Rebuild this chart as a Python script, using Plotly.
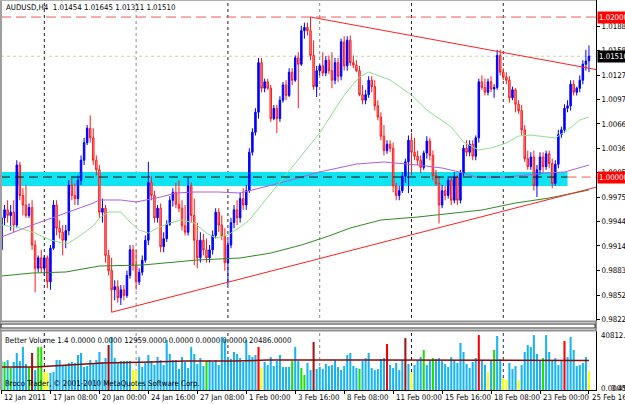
import plotly.graph_objects as go

# ---------------- DATA ----------------
symbol_title = "AUDUSD,H4  1.01454 1.01645 1.01311 1.01510"
vol_title = "Better Volume 1.4 0.0000 0.0000 12959.0000 0.0000 0.0000 0.0000 20486.0000"
copyright_text = "Broco Trader, \u00a9 2001-2010 MetaQuotes Software Corp."

opens = [0.9909, 0.9949, 0.9959, 0.9952, 0.9956, 0.9940, 1.0015, 0.9977, 0.9965, 0.9952,
 0.9962, 0.9915, 0.9886, 0.9899, 0.9886, 0.9899, 0.9869, 0.9911, 0.9965, 0.9936,
 0.9931, 0.9921, 0.9933, 0.9990, 0.9977, 0.9973, 0.9996, 1.0021, 1.0043, 1.0061,
 1.0049, 1.0021, 1.0009, 0.9956, 0.9961, 0.9902, 0.9883, 0.9859, 0.9863, 0.9849,
 0.9859, 0.9852, 0.9877, 0.9909, 0.9890, 0.9869, 0.9881, 0.9896, 0.9921, 0.9993,
 0.9977, 0.9949, 0.9961, 0.9913, 0.9923, 0.9941, 0.9971, 0.9981, 0.9966, 0.9961,
 0.9939, 0.9931, 0.9989, 0.9952, 0.9921, 0.9899, 0.9921, 0.9909, 0.9899, 0.9909,
 0.9927, 0.9956, 0.9940, 0.9926, 0.9893, 0.9915, 0.9943, 0.9959, 0.9949, 0.9973,
 0.9965, 0.9983, 1.0031, 1.0056, 1.0081, 1.0143, 1.0111, 1.0119, 1.0111, 1.0073,
 1.0086, 1.0073, 1.0096, 1.0115, 1.0102, 1.0131, 1.0121, 1.0149, 1.0141, 1.0183,
 1.0187, 1.0183, 1.0152, 1.0113, 1.0133, 1.0139, 1.0130, 1.0146, 1.0133, 1.0121,
 1.0143, 1.0126, 1.0169, 1.0139, 1.0171, 1.0143, 1.0140, 1.0133, 1.0103, 1.0096,
 1.0103, 1.0121, 1.0113, 1.0089, 1.0075, 1.0051, 1.0033, 1.0041, 1.0036, 0.9989,
 0.9977, 0.9983, 1.0001, 1.0019, 1.0046, 1.0031, 1.0026, 1.0021, 1.0012, 1.0030,
 1.0045, 1.0027, 1.0002, 0.9992, 0.9965, 0.9983, 0.9977, 0.9996, 0.9971, 1.0000,
 0.9971, 1.0005, 1.0036, 1.0031, 1.0041, 1.0026, 1.0049, 1.0119, 1.0112, 1.0106,
 1.0119, 1.0110, 1.0112, 1.0152, 1.0131, 1.0125, 1.0121, 1.0099, 1.0109, 1.0091,
 1.0083, 1.0059, 1.0023, 1.0013, 1.0025, 0.9989, 1.0009, 1.0025, 1.0013, 1.0029,
 1.0017, 0.9992, 1.0016, 1.0053, 1.0059, 1.0086, 1.0089, 1.0116, 1.0106, 1.0111,
 1.0121, 1.0141, 1.01454]

highs = [0.9956, 0.9965, 0.9971, 0.9965, 0.9971, 1.0021, 1.0019, 0.9986, 0.9990, 0.9967,
 0.9971, 0.9921, 0.9902, 0.9909, 0.9902, 0.9902, 0.9915, 0.9971, 0.9971, 0.9946,
 0.9940, 0.9940, 0.9996, 0.9999, 0.9992, 1.0002, 1.0027, 1.0049, 1.0065, 1.0077,
 1.0061, 1.0027, 1.0015, 0.9973, 0.9965, 0.9909, 0.9899, 0.9871, 0.9871, 0.9865,
 0.9865, 0.9883, 0.9915, 0.9915, 0.9909, 0.9886, 0.9902, 0.9927, 1.0019, 1.0001,
 0.9983, 0.9965, 0.9967, 0.9931, 0.9946, 0.9976, 0.9986, 0.9993, 0.9996, 0.9971,
 0.9965, 0.9999, 0.9993, 0.9973, 0.9943, 0.9931, 0.9929, 0.9923, 0.9915, 0.9933,
 0.9961, 0.9961, 0.9952, 0.9936, 0.9921, 0.9949, 0.9965, 0.9971, 0.9981, 0.9986,
 0.9990, 1.0036, 1.0061, 1.0086, 1.0149, 1.0149, 1.0123, 1.0123, 1.0115, 1.0090,
 1.0090, 1.0101, 1.0119, 1.0121, 1.0136, 1.0136, 1.0152, 1.0156, 1.0189, 1.0193,
 1.0193, 1.0200, 1.0171, 1.0139, 1.0141, 1.0156, 1.0151, 1.0152, 1.0156, 1.0149,
 1.0149, 1.0173, 1.0176, 1.0176, 1.0177, 1.0152, 1.0146, 1.0139, 1.0115, 1.0109,
 1.0126, 1.0126, 1.0121, 1.0096, 1.0081, 1.0065, 1.0046, 1.0046, 1.0043, 0.9993,
 0.9989, 1.0006, 1.0023, 1.0052, 1.0055, 1.0049, 1.0033, 1.0027, 1.0033, 1.0051,
 1.0049, 1.0033, 1.0009, 1.0001, 0.9990, 0.9989, 1.0001, 0.9999, 1.0006, 1.0002,
 1.0009, 1.0040, 1.0046, 1.0046, 1.0046, 1.0052, 1.0123, 1.0127, 1.0123, 1.0123,
 1.0126, 1.0116, 1.0159, 1.0159, 1.0136, 1.0131, 1.0126, 1.0113, 1.0111, 1.0096,
 1.0090, 1.0065, 1.0033, 1.0031, 1.0033, 1.0015, 1.0031, 1.0031, 1.0033, 1.0033,
 1.0023, 1.0021, 1.0059, 1.0063, 1.0091, 1.0096, 1.0121, 1.0121, 1.0113, 1.0127,
 1.0146, 1.0159, 1.01645]

lows = [0.9901, 0.9940, 0.9943, 0.9933, 0.9931, 0.9936, 0.9971, 0.9952, 0.9949, 0.9949,
 0.9909, 0.9856, 0.9881, 0.9881, 0.9877, 0.9861, 0.9859, 0.9909, 0.9927, 0.9923,
 0.9902, 0.9911, 0.9927, 0.9971, 0.9965, 0.9965, 0.9990, 1.0015, 1.0040, 1.0043,
 1.0015, 1.0002, 0.9949, 0.9943, 0.9893, 0.9877, 0.9831, 0.9846, 0.9843, 0.9840,
 0.9846, 0.9849, 0.9873, 0.9883, 0.9859, 0.9865, 0.9877, 0.9893, 0.9915, 0.9971,
 0.9943, 0.9943, 0.9906, 0.9906, 0.9919, 0.9939, 0.9963, 0.9961, 0.9956, 0.9933,
 0.9927, 0.9927, 0.9943, 0.9890, 0.9886, 0.9893, 0.9902, 0.9893, 0.9893, 0.9903,
 0.9923, 0.9931, 0.9921, 0.9883, 0.9865, 0.9911, 0.9936, 0.9940, 0.9943, 0.9959,
 0.9959, 0.9980, 1.0027, 1.0052, 1.0073, 1.0106, 1.0106, 1.0109, 1.0069, 1.0071,
 1.0055, 1.0069, 1.0093, 1.0096, 1.0100, 1.0115, 1.0119, 1.0086, 1.0139, 1.0173,
 1.0177, 1.0146, 1.0109, 1.0100, 1.0127, 1.0126, 1.0126, 1.0129, 1.0111, 1.0116,
 1.0119, 1.0121, 1.0133, 1.0133, 1.0139, 1.0136, 1.0131, 1.0101, 1.0091, 1.0091,
 1.0099, 1.0106, 1.0083, 1.0071, 1.0046, 1.0027, 1.0029, 1.0031, 0.9981, 0.9971,
 0.9971, 0.9980, 0.9993, 0.9980, 1.0002, 1.0021, 1.0015, 1.0005, 1.0009, 1.0023,
 1.0021, 0.9996, 0.9989, 0.9942, 0.9961, 0.9971, 0.9973, 0.9965, 0.9967, 0.9965,
 0.9967, 1.0001, 1.0026, 1.0026, 1.0021, 1.0021, 1.0043, 1.0109, 1.0102, 1.0102,
 1.0106, 1.0099, 1.0109, 1.0127, 1.0121, 1.0116, 1.0093, 1.0096, 1.0081, 1.0079,
 1.0052, 1.0019, 1.0009, 1.0009, 0.9983, 0.9975, 1.0003, 1.0006, 1.0009, 1.0011,
 0.9986, 0.9989, 1.0011, 1.0049, 1.0055, 1.0081, 1.0083, 1.0102, 1.0102, 1.0106,
 1.0116, 1.0133, 1.01311]

closes = [0.9949, 0.9959, 0.9952, 0.9956, 0.9940, 1.0015, 0.9977, 0.9965, 0.9952, 0.9962,
 0.9915, 0.9886, 0.9899, 0.9886, 0.9899, 0.9869, 0.9911, 0.9965, 0.9936, 0.9931,
 0.9921, 0.9933, 0.9990, 0.9977, 0.9973, 0.9996, 1.0021, 1.0043, 1.0061, 1.0049,
 1.0021, 1.0009, 0.9956, 0.9961, 0.9902, 0.9883, 0.9859, 0.9863, 0.9849, 0.9859,
 0.9852, 0.9877, 0.9909, 0.9890, 0.9869, 0.9881, 0.9896, 0.9921, 0.9993, 0.9977,
 0.9949, 0.9961, 0.9913, 0.9923, 0.9941, 0.9971, 0.9981, 0.9966, 0.9961, 0.9939,
 0.9931, 0.9989, 0.9952, 0.9921, 0.9899, 0.9921, 0.9909, 0.9899, 0.9909, 0.9927,
 0.9956, 0.9940, 0.9926, 0.9893, 0.9915, 0.9943, 0.9959, 0.9949, 0.9973, 0.9965,
 0.9983, 1.0031, 1.0056, 1.0081, 1.0143, 1.0111, 1.0119, 1.0111, 1.0073, 1.0086,
 1.0073, 1.0096, 1.0115, 1.0102, 1.0131, 1.0121, 1.0149, 1.0141, 1.0183, 1.0187,
 1.0183, 1.0152, 1.0113, 1.0133, 1.0139, 1.0130, 1.0146, 1.0133, 1.0121, 1.0143,
 1.0126, 1.0169, 1.0139, 1.0171, 1.0143, 1.0140, 1.0133, 1.0103, 1.0096, 1.0103,
 1.0121, 1.0113, 1.0089, 1.0075, 1.0051, 1.0033, 1.0041, 1.0036, 0.9989, 0.9977,
 0.9983, 1.0001, 1.0019, 1.0046, 1.0031, 1.0026, 1.0021, 1.0012, 1.0030, 1.0045,
 1.0027, 1.0002, 0.9992, 0.9965, 0.9983, 0.9977, 0.9996, 0.9971, 1.0000, 0.9971,
 1.0005, 1.0036, 1.0031, 1.0041, 1.0026, 1.0049, 1.0119, 1.0112, 1.0106, 1.0119,
 1.0110, 1.0112, 1.0152, 1.0131, 1.0125, 1.0121, 1.0099, 1.0109, 1.0091, 1.0083,
 1.0059, 1.0023, 1.0013, 1.0025, 0.9989, 1.0009, 1.0025, 1.0013, 1.0029, 1.0017,
 0.9992, 1.0016, 1.0053, 1.0059, 1.0086, 1.0089, 1.0116, 1.0106, 1.0111, 1.0121,
 1.0141, 1.0145, 1.01510]

volumes = [20000, 19400, 20700, 15200, 19400, 25600, 20000, 29700, 18000, 15900,
 25600, 13800, 29700, 29700, 12400, 11800, 11800, 12500, 20700, 20700,
 17300, 17300, 18700, 19400, 18700, 24200, 25600, 15900, 16600, 20700,
 18700, 20700, 26300, 19400, 22100, 31100, 36700, 22100, 19400, 20000,
 20000, 20000, 20000, 13800, 13800, 22800, 15900, 18700, 24200, 20000,
 17300, 22800, 20700, 17300, 34600, 24900, 20700, 20700, 14500, 22800,
 19400, 15200, 29700, 24900, 18000, 22100, 16600, 20000, 20700, 19400,
 20700, 17300, 36700, 35200, 22800, 21400, 26300, 24900, 22100, 19400,
 34600, 24200, 22800, 24200, 29700, 15200, 19400, 17300, 22800, 16600,
 20000, 24200, 15900, 15900, 15900, 20000, 29700, 20000, 15200, 10400,
 18700, 13800, 33200, 14500, 15900, 14500, 18000, 16600, 17300, 20700,
 15900, 13800, 16600, 24200, 25600, 16600, 15200, 14500, 20000, 22100,
 25600, 15200, 13800, 14500, 21400, 22100, 31800, 17300, 15200, 18700,
 13800, 20700, 35900, 18000, 12400, 17300, 20700, 22800, 27700, 17300,
 20700, 22100, 21400, 22100, 20000, 18000, 15900, 22800, 20700, 18700,
 32500, 26300, 18000, 15200, 19400, 22100, 38000, 20700, 17300, 12400,
 20700, 27700, 37400, 21400, 8300, 6900, 18700, 14500, 16600, 6900,
 17300, 26300, 31100, 29700, 38000, 24900, 20700, 22100, 38000, 26300,
 20700, 22100, 17300, 20000, 33900, 22800, 36700, 27700, 16600, 17300,
 18700, 22800, 12959]

# b=normal, g=churn, y=low volume, r=climax up, m=climax churn
vol_types = ("bgbgbbbbbg" "mbggyybbbb" "bbbbbbbbbb" "bbbbbmbbbb" "bbbyybbbbb"
             "bbbbbbbbbb" "bbbbbbbgbb" "bbbbbbbbbb" "bbbbrybbbb" "bbbbbgbbgg"
             "bbmbbbbbbb" "bbbbbbbgbb" "bbbbbbrbbb" "bbmbybbbgb" "bgbbbbbbbb"
             "bbbbbbrbby" "bgbbyybbby" "bbbbbbbgbb" "bbbbrbbbbb" "bby")

vol_ma_idx = [0, 11, 22, 33, 49, 60, 76, 87, 120, 160, 192]
vol_ma_vals = [15900, 15900, 17300, 18700, 19400, 20000, 20000, 20700, 20700, 20700, 20486]

ma_fast_idx = [0, 6, 11, 16, 20, 22, 26, 30, 32, 35, 39, 42, 45, 48, 51, 55, 59, 63, 67, 70,
               74, 78, 81, 93, 104, 112, 117, 120, 127, 134, 139, 147, 151, 156, 160, 165,
               169, 173, 178, 181, 185, 189, 192]
ma_fast_vals = [0.99400, 0.99363, 0.99300, 0.99213, 0.99175, 0.99175, 0.99275, 0.99388, 0.99488,
                0.99563, 0.99563, 0.99438, 0.99338, 0.99300, 0.99363, 0.99425, 0.99463, 0.99425,
                0.99300, 0.99238, 0.99275, 0.99375, 0.99463, 1.00025, 1.00550, 1.01025, 1.01250,
                1.01313, 1.01213, 1.01025, 1.00838, 1.00625, 1.00438, 1.00338, 1.00363, 1.00425,
                1.00513, 1.00525, 1.00500, 1.00488, 1.00588, 1.00713, 1.00750]

ma_mid_idx = [0, 10, 21, 30, 32, 39, 44, 52, 57, 63, 71, 78, 91, 104, 116, 125, 136, 144,
              151, 155, 165, 178, 184, 189, 192]
ma_mid_vals = [0.99250, 0.99400, 0.99550, 0.99675, 0.99713, 0.99713, 0.99688, 0.99750, 0.99800,
               0.99813, 0.99813, 0.99800, 0.99925, 1.00063, 1.00163, 1.00188, 1.00150, 1.00113,
               1.00050, 1.00000, 1.00000, 1.00050, 1.00063, 1.00113, 1.00150]

ma_slow_idx = [0, 10, 21, 28, 32, 46, 54, 64, 78, 88, 98, 107, 114, 124, 136, 147, 157, 168, 179, 192]
ma_slow_vals = [0.98763, 0.98800, 0.98813, 0.98863, 0.98888, 0.98900, 0.98925, 0.98963, 0.98988,
                0.99050, 0.99150, 0.99263, 0.99363, 0.99463, 0.99500, 0.99550, 0.99588, 0.99675,
                0.99738, 0.99838]

trend_up = [(36, 0.9831), (192, 0.99850)]
trend_down = [(101, 1.0200), (192, 1.01360)]
level_top = 1.02000
level_mid = 1.00000
bid_price = 1.01510
zone_top, zone_bottom, zone_end = 1.00063, 0.99888, 185

price_ticks = [1.01885, 1.01580, 1.01275, 1.00970, 1.00665, 1.00360, 1.00055,
               0.99750, 0.99445, 0.99140, 0.98835, 0.98525, 0.98220]
time_idx = [0, 16, 32, 48, 64, 80, 96, 112, 128, 144, 160, 176, 192]
time_labels = ["12 Jan 2011", "17 Jan 08:00", "20 Jan 00:00", "24 Jan 16:00", "27 Jan 08:00",
               "1 Feb 00:00", "3 Feb 16:00", "8 Feb 08:00", "11 Feb 00:00", "15 Feb 16:00",
               "18 Feb 08:00", "23 Feb 00:00", "25 Feb 16:00"]
grid_idx = [14, 44, 74, 104, 134, 164]
grid_colors = ["#202020", "#8c8c8c", "#202020", "#8c8c8c", "#202020", "#303030"]
vol_max = 40812.45

# ---------------- LAYOUT HELPERS ----------------
W, H = 625, 404
def fx(p):
    return p / W
def fy(p):
    return 1 - p / H

FONT = "Liberation Sans Narrow, DejaVu Sans Condensed, Arial Narrow, Liberation Sans, sans-serif"
FS = 7.8
n = len(closes)
idx = list(range(n))
xr = [-0.16, 194.3]
yr = [0.98188, 1.02213]

vol_color_map = {"b": "#18b4f2", "g": "#22dd00", "y": "#ffff00", "r": "#ff0000", "m": "#a01414"}

fig = go.Figure()

fig.add_trace(go.Candlestick(
    x=idx, open=opens, high=highs, low=lows, close=closes,
    increasing=dict(line=dict(color="#0000ff", width=1), fillcolor="#0000ff"),
    decreasing=dict(line=dict(color="#ff1a1a", width=1), fillcolor="#f6a0a0"),
    whiskerwidth=0, xaxis="x", yaxis="y", showlegend=False, hoverinfo="skip"))

for xs, ys, col in [(ma_slow_idx, ma_slow_vals, "#2e8b22"),
                    (ma_mid_idx, ma_mid_vals, "#b05ee0"),
                    (ma_fast_idx, ma_fast_vals, "#8ee08e")]:
    fig.add_trace(go.Scatter(x=xs, y=ys, mode="lines", line=dict(color=col, width=1),
                             xaxis="x", yaxis="y", showlegend=False, hoverinfo="skip"))

# trend lines (rays to the right edge)
for (i0, p0), (i1, p1) in [trend_up, trend_down]:
    slope = (p1 - p0) / (i1 - i0)
    xe = xr[1]
    fig.add_trace(go.Scatter(x=[i0, xe], y=[p0, p0 + slope * (xe - i0)], mode="lines",
                             line=dict(color="#ff2020", width=1), xaxis="x", yaxis="y",
                             showlegend=False, hoverinfo="skip"))

# volume bars
fig.add_trace(go.Bar(x=idx, y=volumes, marker=dict(color=[vol_color_map[c] for c in vol_types],
                     line=dict(width=0)), xaxis="x2", yaxis="y2", showlegend=False, hoverinfo="skip"))
fig.add_trace(go.Scatter(x=vol_ma_idx, y=vol_ma_vals, mode="lines", line=dict(color="#8b0a0a", width=1.5),
                         xaxis="x2", yaxis="y2", showlegend=False, hoverinfo="skip"))

shapes = []
# cyan zone
shapes.append(dict(type="rect", xref="x", yref="y", x0=xr[0], x1=zone_end, y0=zone_bottom, y1=zone_top,
                   fillcolor="#10e4f2", line=dict(width=0), layer="below"))
# grid verticals
for gi, gc in zip(grid_idx, grid_colors):
    shapes.append(dict(type="line", xref="x", yref="paper", x0=gi, x1=gi, y0=fy(390), y1=fy(0),
                       line=dict(color=gc, width=1, dash="3px,3px"), layer="below"))
# horizontal levels
shapes.append(dict(type="line", xref="x", yref="y", x0=xr[0], x1=xr[1], y0=level_top, y1=level_top,
                   line=dict(color="#f25a5a", width=1, dash="10px,5px")))
shapes.append(dict(type="line", xref="x", yref="y", x0=xr[0], x1=zone_end, y0=level_mid, y1=level_mid,
                   line=dict(color="#101010", width=1, dash="9px,5px")))
shapes.append(dict(type="line", xref="x", yref="y", x0=zone_end, x1=xr[1], y0=level_mid, y1=level_mid,
                   line=dict(color="#f25a5a", width=1, dash="9px,5px")))
shapes.append(dict(type="line", xref="x", yref="y", x0=xr[0], x1=xr[1], y0=bid_price, y1=bid_price,
                   line=dict(color="#cfcfa8", width=1, dash="dot"), layer="below"))
# frames
shapes.append(dict(type="line", xref="paper", yref="paper", x0=fx(1), x1=fx(1), y0=fy(322), y1=fy(0),
                   line=dict(color="#a0a0a0", width=2)))
shapes.append(dict(type="line", xref="paper", yref="paper", x0=fx(1), x1=fx(1), y0=fy(390), y1=fy(330),
                   line=dict(color="#a0a0a0", width=2)))
shapes.append(dict(type="line", xref="paper", yref="paper", x0=0, x1=fx(596), y0=fy(0.5), y1=fy(0.5),
                   line=dict(color="#b0b0b0", width=1)))
shapes.append(dict(type="rect", xref="paper", yref="paper", x0=0, x1=fx(596), y0=fy(330.5), y1=fy(321.5),
                   fillcolor="#ffffff", line=dict(color="#909090", width=2)))
shapes.append(dict(type="rect", xref="paper", yref="paper", x0=fx(1), x1=fx(595), y0=fy(328), y1=fy(324),
                   fillcolor="#ffffff", line=dict(color="#303030", width=1)))

annotations = []
annotations.append(dict(text=symbol_title, xref="paper", yref="paper", x=fx(4), y=fy(7),
                        xanchor="left", yanchor="middle", showarrow=False, font=dict(size=FS, color="#000")))
annotations.append(dict(text=vol_title, xref="paper", yref="paper", x=fx(3), y=fy(340),
                        xanchor="left", yanchor="middle", showarrow=False, font=dict(size=FS, color="#000")))
annotations.append(dict(text=copyright_text, xref="paper", yref="paper", x=fx(3), y=fy(383),
                        xanchor="left", yanchor="middle", showarrow=False, font=dict(size=FS, color="#000")))
for ti, tl in zip(time_idx, time_labels):
    annotations.append(dict(text=tl, xref="x2", yref="paper", x=ti, y=fy(397.5), xshift=1,
                            xanchor="left", yanchor="middle", showarrow=False, font=dict(size=FS, color="#000")))
for txt, p, bg in [("1.02000", level_top, "#ff0000"), ("1.00000", level_mid, "#ff0000"),
                   ("1.01510", bid_price, "#000000")]:
    annotations.append(dict(text=txt, xref="paper", yref="y", x=fx(597), y=p, xanchor="left",
                            yanchor="middle", showarrow=False, bgcolor=bg, borderpad=1,
                            font=dict(size=FS, color="#ffffff")))
annotations.append(dict(text="%.2f" % vol_max, xref="paper", yref="paper", x=fx(599), y=fy(335),
                        xanchor="left", yanchor="middle", showarrow=False, font=dict(size=FS, color="#000")))
annotations.append(dict(text="0.0000", xref="paper", yref="paper", x=fx(599), y=fy(388),
                        xanchor="left", yanchor="middle", showarrow=False, font=dict(size=FS, color="#000")))
annotations.append(dict(text="3.45", xref="paper", yref="paper", x=fx(609), y=fy(388),
                        xanchor="left", yanchor="middle", showarrow=False, font=dict(size=FS, color="#000")))

fig.update_layout(
    width=W, height=H, margin=dict(l=0, r=0, t=0, b=0),
    paper_bgcolor="#ffffff", plot_bgcolor="#ffffff",
    font=dict(family=FONT, size=FS, color="#000"),
    bargap=0.33, showlegend=False,
    xaxis=dict(domain=[fx(1), fx(596)], range=xr, anchor="y", showgrid=False, zeroline=False,
               showticklabels=False, rangeslider=dict(visible=False), fixedrange=True, showline=False),
    yaxis=dict(domain=[fy(322), fy(0)], range=yr, side="right", anchor="x", showgrid=False, zeroline=False,
               tickvals=price_ticks, ticktext=["%.5f" % v for v in price_ticks], ticks="outside",
               ticklen=3, tickcolor="#000", showline=True, linecolor="#000", linewidth=1,
               tickfont=dict(size=FS), automargin=False, fixedrange=True),
    xaxis2=dict(domain=[fx(1), fx(596)], range=xr, anchor="y2", matches="x", showgrid=False, zeroline=False,
                tickvals=time_idx, ticks="outside", ticklen=3, tickcolor="#000", showticklabels=False,
                showline=True, linecolor="#000", linewidth=1, fixedrange=True),
    yaxis2=dict(domain=[fy(390), fy(331)], range=[0, vol_max], side="right", anchor="x2", showgrid=False,
                zeroline=False, showticklabels=False, showline=True, linecolor="#000", linewidth=1,
                fixedrange=True),
    shapes=shapes, annotations=annotations,
)

fig.write_html("out.html")
